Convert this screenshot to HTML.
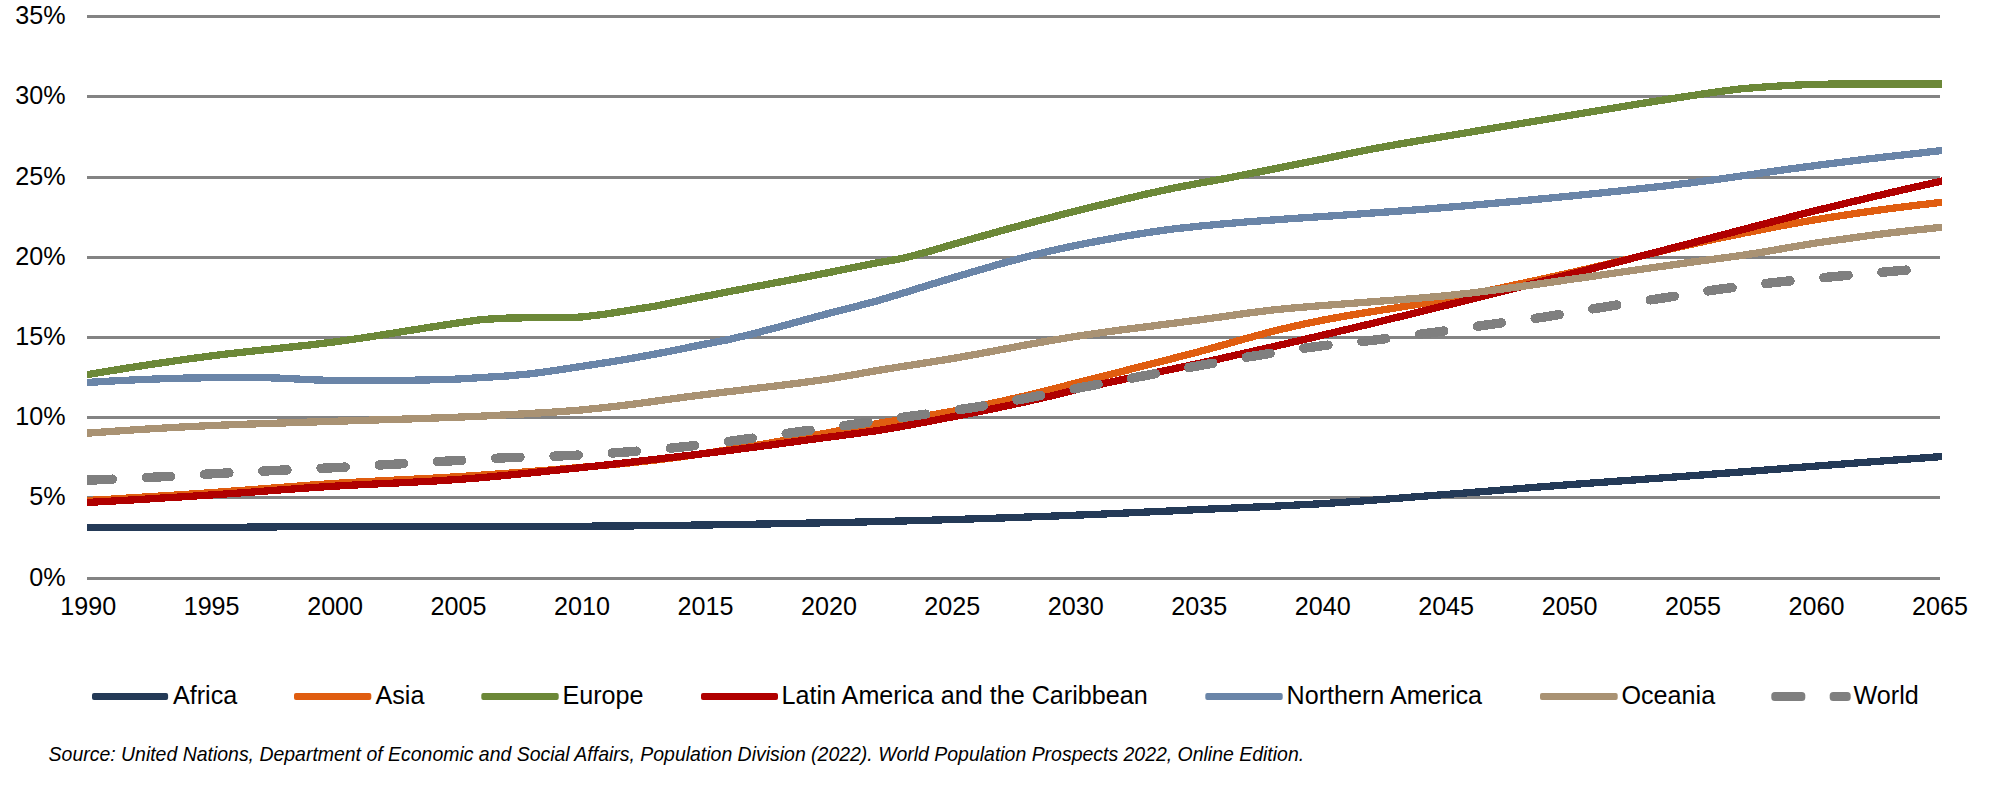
<!DOCTYPE html>
<html lang="en"><head><meta charset="utf-8"><title>Share of population aged 65+ by region</title>
<style>
html,body{margin:0;padding:0;background:#fff;}
body{width:1998px;height:789px;overflow:hidden;font-family:"Liberation Sans",Arial,sans-serif;}
svg{display:block;}
text{font-family:"Liberation Sans",Arial,sans-serif;fill:#000;}
.ax{font-size:25.15px;}
.lg{font-size:25.15px;}
.src{font-size:19.47px;font-style:italic;}
</style></head><body>
<svg width="1998" height="789" viewBox="0 0 1998 789">
<rect width="1998" height="789" fill="#fff"/>
<g fill="#838383" shape-rendering="crispEdges">
<rect x="87" y="15" width="1853" height="3"/>
<rect x="87" y="95" width="1853" height="3"/>
<rect x="87" y="176" width="1853" height="3"/>
<rect x="87" y="256" width="1853" height="3"/>
<rect x="87" y="336" width="1853" height="3"/>
<rect x="87" y="416" width="1853" height="3"/>
<rect x="87" y="496" width="1853" height="3"/>
<rect x="87" y="577" width="1853" height="3"/>
</g>
<g class="ax" text-anchor="end">
<text transform="translate(65.6 24.3) scale(1 1.040)">35%</text>
<text transform="translate(65.6 104.3) scale(1 1.040)">30%</text>
<text transform="translate(65.6 185.3) scale(1 1.040)">25%</text>
<text transform="translate(65.6 265.3) scale(1 1.040)">20%</text>
<text transform="translate(65.6 345.3) scale(1 1.040)">15%</text>
<text transform="translate(65.6 425.3) scale(1 1.040)">10%</text>
<text transform="translate(65.6 505.3) scale(1 1.040)">5%</text>
<text transform="translate(65.6 586.3) scale(1 1.040)">0%</text>
</g>
<g class="ax" text-anchor="middle">
<text transform="translate(88.2 615.0) scale(1 1.040)">1990</text>
<text transform="translate(211.6 615.0) scale(1 1.040)">1995</text>
<text transform="translate(335.1 615.0) scale(1 1.040)">2000</text>
<text transform="translate(458.5 615.0) scale(1 1.040)">2005</text>
<text transform="translate(582.0 615.0) scale(1 1.040)">2010</text>
<text transform="translate(705.4 615.0) scale(1 1.040)">2015</text>
<text transform="translate(828.9 615.0) scale(1 1.040)">2020</text>
<text transform="translate(952.3 615.0) scale(1 1.040)">2025</text>
<text transform="translate(1075.8 615.0) scale(1 1.040)">2030</text>
<text transform="translate(1199.2 615.0) scale(1 1.040)">2035</text>
<text transform="translate(1322.7 615.0) scale(1 1.040)">2040</text>
<text transform="translate(1446.1 615.0) scale(1 1.040)">2045</text>
<text transform="translate(1569.6 615.0) scale(1 1.040)">2050</text>
<text transform="translate(1693.0 615.0) scale(1 1.040)">2055</text>
<text transform="translate(1816.5 615.0) scale(1 1.040)">2060</text>
<text transform="translate(1939.9 615.0) scale(1 1.040)">2065</text>
</g>
<clipPath id="pc"><rect x="87" y="0" width="1855" height="600"/></clipPath>
<g fill="none" stroke-linejoin="round" clip-path="url(#pc)" shape-rendering="crispEdges">
<path d="M83.0 527.5 L87.0 527.5 L111.7 527.5 L136.4 527.5 L161.1 527.5 L185.8 527.4 L210.5 527.4 L235.2 527.3 L259.9 527.0 L284.6 526.8 L309.3 526.6 L334.0 526.5 L358.7 526.5 L383.4 526.4 L408.1 526.4 L432.8 526.4 L457.5 526.4 L482.2 526.4 L506.9 526.3 L531.6 526.3 L556.3 526.3 L581.0 526.2 L605.7 526.1 L630.4 525.9 L655.1 525.6 L679.8 525.3 L704.5 525.0 L729.2 524.6 L753.9 524.2 L778.6 523.7 L803.3 523.2 L828.0 522.7 L852.7 522.2 L877.4 521.6 L902.1 521.0 L926.8 520.3 L951.5 519.6 L976.2 518.8 L1000.9 518.0 L1025.6 517.1 L1050.3 516.2 L1075.0 515.2 L1099.7 514.2 L1124.4 513.1 L1149.1 511.9 L1173.8 510.8 L1198.5 509.6 L1223.2 508.5 L1247.9 507.4 L1272.6 506.3 L1297.3 505.0 L1322.0 503.7 L1346.7 502.1 L1371.4 500.3 L1396.1 498.4 L1420.8 496.4 L1445.5 494.5 L1470.2 492.6 L1494.9 490.6 L1519.6 488.6 L1544.3 486.6 L1569.0 484.7 L1593.7 482.9 L1618.4 481.1 L1643.1 479.3 L1667.8 477.5 L1692.5 475.7 L1717.2 473.8 L1741.9 471.9 L1766.6 470.0 L1791.3 468.0 L1816.0 466.1 L1840.7 464.2 L1865.4 462.3 L1890.1 460.4 L1914.8 458.6 L1939.5 456.7 L1944.5 456.3" stroke="#243a57" stroke-width="7.3"/>
<path d="M83.0 500.7 L87.0 500.5 L111.7 499.1 L136.4 497.5 L161.1 496.0 L185.8 494.4 L210.5 492.7 L235.2 490.9 L259.9 489.0 L284.6 487.1 L309.3 485.2 L334.0 483.5 L358.7 482.0 L383.4 480.7 L408.1 479.5 L432.8 478.2 L457.5 476.7 L482.2 475.1 L506.9 473.3 L531.6 471.4 L556.3 469.5 L581.0 467.4 L605.7 465.2 L630.4 462.8 L655.1 460.1 L679.8 457.0 L704.5 453.5 L729.2 449.7 L753.9 445.7 L778.6 441.5 L803.3 437.2 L828.0 432.8 L852.7 428.1 L877.4 423.5 L902.1 419.5 L926.8 415.7 L951.5 411.5 L976.2 406.7 L1000.9 401.4 L1025.6 395.8 L1050.3 389.8 L1075.0 383.3 L1099.7 377.0 L1124.4 370.8 L1149.1 364.5 L1173.8 358.2 L1198.5 351.8 L1223.2 345.0 L1247.9 338.0 L1272.6 331.3 L1297.3 325.5 L1322.0 320.3 L1346.7 315.8 L1371.4 311.7 L1396.1 307.8 L1420.8 303.8 L1445.5 299.4 L1470.2 294.5 L1494.9 289.3 L1519.6 283.9 L1544.3 278.6 L1569.0 273.1 L1593.7 267.4 L1618.4 261.5 L1643.1 255.5 L1667.8 249.6 L1692.5 244.0 L1717.2 238.6 L1741.9 233.5 L1766.6 228.6 L1791.3 223.9 L1816.0 219.6 L1840.7 215.7 L1865.4 212.0 L1890.1 208.6 L1914.8 205.4 L1939.5 202.6 L1944.5 202.0" stroke="#e05d10" stroke-width="7.3"/>
<path d="M83.0 375.4 L87.0 374.7 L111.7 370.6 L136.4 366.6 L161.1 362.9 L185.8 359.3 L210.5 356.0 L235.2 353.0 L259.9 350.3 L284.6 347.7 L309.3 345.0 L334.0 342.0 L358.7 338.5 L383.4 334.7 L408.1 330.7 L432.8 326.8 L457.5 323.0 L482.2 319.5 L506.9 318.1 L531.6 317.7 L556.3 317.7 L581.0 317.1 L605.7 314.1 L630.4 310.1 L655.1 306.2 L679.8 301.3 L704.5 296.4 L729.2 291.6 L753.9 286.9 L778.6 282.2 L803.3 277.5 L828.0 272.7 L852.7 267.7 L877.4 262.8 L902.1 258.5 L926.8 252.1 L951.5 244.8 L976.2 237.8 L1000.9 230.8 L1025.6 224.1 L1050.3 217.6 L1075.0 211.3 L1099.7 205.2 L1124.4 199.2 L1149.1 193.4 L1173.8 188.1 L1198.5 183.3 L1223.2 178.9 L1247.9 174.1 L1272.6 169.2 L1297.3 164.2 L1322.0 159.2 L1346.7 154.1 L1371.4 149.1 L1396.1 144.6 L1420.8 140.4 L1445.5 136.3 L1470.2 132.1 L1494.9 127.9 L1519.6 123.7 L1544.3 119.6 L1569.0 115.5 L1593.7 111.4 L1618.4 107.3 L1643.1 103.2 L1667.8 99.3 L1692.5 95.5 L1717.2 91.8 L1741.9 88.7 L1766.6 86.8 L1791.3 85.3 L1816.0 84.3 L1840.7 84.0 L1865.4 83.9 L1890.1 83.9 L1914.8 83.9 L1939.5 83.9 L1944.5 83.9" stroke="#6c8838" stroke-width="7.3"/>
<path d="M83.0 502.7 L87.0 502.5 L111.7 501.1 L136.4 499.7 L161.1 498.1 L185.8 496.6 L210.5 495.0 L235.2 493.3 L259.9 491.5 L284.6 489.6 L309.3 487.8 L334.0 486.2 L358.7 484.8 L383.4 483.6 L408.1 482.4 L432.8 481.1 L457.5 479.5 L482.2 477.6 L506.9 475.3 L531.6 472.8 L556.3 470.2 L581.0 467.6 L605.7 465.0 L630.4 462.2 L655.1 459.4 L679.8 456.5 L704.5 453.5 L729.2 450.4 L753.9 447.2 L778.6 443.9 L803.3 440.5 L828.0 437.2 L852.7 434.0 L877.4 430.6 L902.1 426.4 L926.8 421.8 L951.5 417.0 L976.2 412.1 L1000.9 407.1 L1025.6 401.8 L1050.3 396.1 L1075.0 390.0 L1099.7 384.4 L1124.4 379.2 L1149.1 374.0 L1173.8 368.8 L1198.5 363.5 L1223.2 358.0 L1247.9 352.4 L1272.6 346.8 L1297.3 341.1 L1322.0 335.3 L1346.7 329.5 L1371.4 323.6 L1396.1 317.6 L1420.8 311.6 L1445.5 305.5 L1470.2 299.4 L1494.9 293.2 L1519.6 287.0 L1544.3 280.8 L1569.0 274.5 L1593.7 268.2 L1618.4 261.9 L1643.1 255.5 L1667.8 249.2 L1692.5 242.8 L1717.2 236.3 L1741.9 229.8 L1766.6 223.3 L1791.3 216.8 L1816.0 210.6 L1840.7 204.6 L1865.4 198.6 L1890.1 192.8 L1914.8 187.1 L1939.5 181.6 L1944.5 180.5" stroke="#b00000" stroke-width="7.3"/>
<path d="M83.0 382.7 L87.0 382.5 L111.7 381.0 L136.4 379.8 L161.1 378.8 L185.8 378.1 L210.5 377.7 L235.2 377.6 L259.9 377.5 L284.6 378.3 L309.3 379.7 L334.0 380.5 L358.7 380.5 L383.4 380.5 L408.1 380.3 L432.8 379.8 L457.5 379.1 L482.2 377.5 L506.9 376.0 L531.6 373.7 L556.3 370.3 L581.0 366.5 L605.7 362.7 L630.4 358.6 L655.1 354.1 L679.8 349.2 L704.5 344.2 L729.2 339.5 L753.9 333.5 L778.6 327.0 L803.3 320.3 L828.0 313.6 L852.7 307.3 L877.4 300.8 L902.1 293.4 L926.8 285.7 L951.5 278.2 L976.2 270.9 L1000.9 263.7 L1025.6 257.1 L1050.3 251.0 L1075.0 245.6 L1099.7 240.8 L1124.4 236.3 L1149.1 232.3 L1173.8 228.9 L1198.5 226.2 L1223.2 223.9 L1247.9 221.8 L1272.6 220.0 L1297.3 218.2 L1322.0 216.6 L1346.7 214.9 L1371.4 213.1 L1396.1 211.3 L1420.8 209.5 L1445.5 207.5 L1470.2 205.4 L1494.9 203.2 L1519.6 201.0 L1544.3 198.6 L1569.0 196.2 L1593.7 193.7 L1618.4 191.1 L1643.1 188.4 L1667.8 185.6 L1692.5 182.6 L1717.2 179.4 L1741.9 175.9 L1766.6 172.3 L1791.3 168.8 L1816.0 165.5 L1840.7 162.4 L1865.4 159.3 L1890.1 156.4 L1914.8 153.6 L1939.5 150.8 L1944.5 150.2" stroke="#6a85a8" stroke-width="7.3"/>
<path d="M83.0 433.5 L87.0 433.2 L111.7 431.4 L136.4 429.7 L161.1 428.2 L185.8 426.8 L210.5 425.6 L235.2 424.6 L259.9 423.7 L284.6 422.9 L309.3 422.1 L334.0 421.3 L358.7 420.5 L383.4 419.7 L408.1 419.0 L432.8 418.1 L457.5 417.2 L482.2 416.1 L506.9 414.8 L531.6 413.4 L556.3 411.9 L581.0 410.0 L605.7 407.5 L630.4 404.6 L655.1 401.2 L679.8 397.8 L704.5 394.6 L729.2 391.6 L753.9 388.6 L778.6 385.6 L803.3 382.5 L828.0 379.0 L852.7 374.9 L877.4 370.5 L902.1 366.5 L926.8 362.7 L951.5 358.7 L976.2 354.3 L1000.9 349.7 L1025.6 345.0 L1050.3 340.6 L1075.0 336.5 L1099.7 332.9 L1124.4 329.5 L1149.1 326.4 L1173.8 323.2 L1198.5 320.0 L1223.2 316.6 L1247.9 313.1 L1272.6 310.0 L1297.3 307.6 L1322.0 305.6 L1346.7 303.7 L1371.4 301.8 L1396.1 300.0 L1420.8 298.0 L1445.5 295.8 L1470.2 293.1 L1494.9 290.0 L1519.6 286.7 L1544.3 283.2 L1569.0 279.6 L1593.7 276.1 L1618.4 272.5 L1643.1 269.0 L1667.8 265.5 L1692.5 262.0 L1717.2 258.7 L1741.9 255.4 L1766.6 251.5 L1791.3 247.1 L1816.0 243.0 L1840.7 239.5 L1865.4 236.1 L1890.1 232.9 L1914.8 230.1 L1939.5 227.5 L1944.5 227.0" stroke="#a99273" stroke-width="7.3"/>
<path d="M87.0 480.2 L111.7 479.2 L136.4 478.0 L161.1 476.8 L185.8 475.4 L210.5 473.9 L235.2 472.5 L259.9 471.3 L284.6 470.0 L309.3 468.9 L334.0 467.7 L358.7 466.3 L383.4 464.8 L408.1 463.4 L432.8 461.9 L457.5 460.5 L482.2 459.0 L506.9 457.7 L531.6 456.9 L556.3 456.1 L581.0 455.0 L605.7 453.5 L630.4 451.7 L655.1 449.6 L679.8 447.2 L704.5 444.5 L729.2 441.3 L753.9 438.0 L778.6 434.6 L803.3 431.1 L828.0 427.8 L852.7 424.5 L877.4 421.0 L902.1 417.4 L926.8 414.0 L951.5 410.7 L976.2 407.1 L1000.9 402.9 L1025.6 398.4 L1050.3 393.6 L1075.0 388.7 L1099.7 384.0 L1124.4 379.4 L1149.1 374.9 L1173.8 370.3 L1198.5 365.8 L1223.2 361.4 L1247.9 357.0 L1272.6 353.0 L1297.3 349.1 L1322.0 345.8 L1346.7 343.1 L1371.4 340.4 L1396.1 337.4 L1420.8 334.1 L1445.5 330.8 L1470.2 327.2 L1494.9 323.8 L1519.6 320.5 L1544.3 317.1 L1569.0 313.0 L1593.7 308.7 L1618.4 304.7 L1643.1 301.0 L1667.8 297.3 L1692.5 293.3 L1717.2 289.5 L1741.9 286.3 L1766.6 283.4 L1791.3 280.7 L1816.0 278.3 L1840.7 276.0 L1865.4 273.7 L1890.1 271.5 L1914.8 269.4 L1939.5 267.5" stroke="#7f7f7f" stroke-width="9.4" stroke-linecap="round" stroke-dashoffset="-1.1" stroke-dasharray="24.3 34.02"/>
</g>
<g>
<rect x="92.0" y="693" width="76.1" height="7" rx="2" fill="#243a57"/>
<rect x="294.0" y="693" width="77.3" height="7" rx="2" fill="#e05d10"/>
<rect x="481.3" y="693" width="77.4" height="7" rx="2" fill="#6c8838"/>
<rect x="701.0" y="693" width="77.0" height="7" rx="2" fill="#b00000"/>
<rect x="1205.3" y="693" width="77.4" height="7" rx="2" fill="#6a85a8"/>
<rect x="1540.0" y="693" width="77.7" height="7" rx="2" fill="#a99273"/>
<rect x="1771.3" y="692" width="34" height="9" rx="3.5" fill="#7f7f7f"/>
<rect x="1829.7" y="692" width="21" height="9" rx="3.5" fill="#7f7f7f"/>
</g>
<g class="lg">
<text transform="translate(173.0 704.3) scale(1 1.010)">Africa</text>
<text transform="translate(375.5 704.3) scale(1 1.010)">Asia</text>
<text transform="translate(562.5 704.3) scale(1 1.010)">Europe</text>
<text transform="translate(781.5 704.3) scale(1 1.010)">Latin America and the Caribbean</text>
<text transform="translate(1286.5 704.3) scale(1 1.010)">Northern America</text>
<text transform="translate(1621.5 704.3) scale(1 1.010)">Oceania</text>
<text transform="translate(1853.5 704.3) scale(1 1.010)">World</text>
</g>
<text class="src" transform="translate(48.6 761) scale(1 1.01)">Source: United Nations, Department of Economic and Social Affairs, Population Division (2022). World Population Prospects 2022, Online Edition.</text>
</svg></body></html>
